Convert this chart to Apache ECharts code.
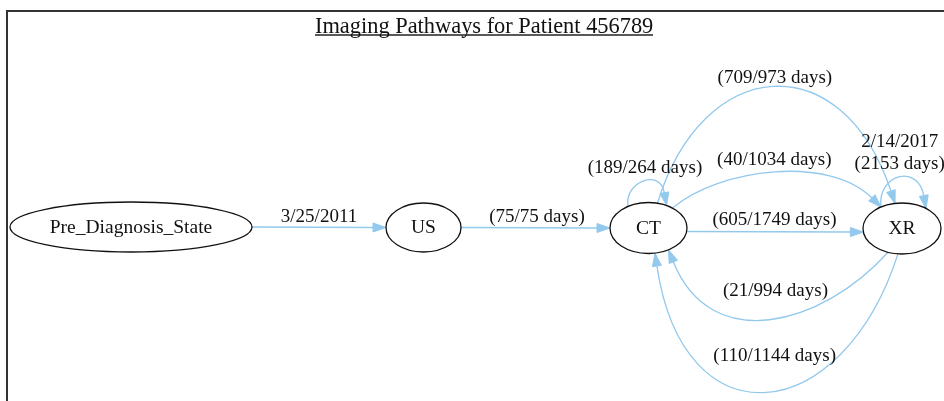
<!DOCTYPE html>
<html>
<head>
<meta charset="utf-8">
<style>html,body{margin:0;padding:0;background:#fff}#c{width:944px;height:401px}</style>
<script src="https://cdn.jsdelivr.net/npm/echarts@6/dist/echarts.min.js"></script>
</head>
<body>
<div id="c"></div>
<script>
// ---- data ----
const titleText = 'Imaging Pathways for Patient 456789';
const nodeNames = ['Pre_Diagnosis_State', 'US', 'CT', 'XR'];
const edgeSources = ['Pre_Diagnosis_State', 'US', 'CT', 'CT', 'CT', 'CT', 'XR', 'XR', 'XR'];
const edgeTargets = ['US', 'CT', 'CT', 'XR', 'XR', 'XR', 'XR', 'CT', 'CT'];
const edgeLabels = ['3/25/2011', '(75/75 days)', '(189/264 days)', '(709/973 days)', '(40/1034 days)',
  '(605/1749 days)', '2/14/2017\n(2153 days)', '(21/994 days)', '(110/1144 days)'];

// ---- layout (dot-style placement; node centres on hidden 0..944 / 0..401 axes) ----
const layoutX = [131, 423.5, 648.5, 902];
const layoutY = [227, 227.5, 228, 228.5];
const nodeSizes = [[242, 50], [75, 49], [77, 51], [78, 51]];
// per edge: [tailPortAngle, tailDir, tailLen, headPortAngle, headDir, headLen, labelDx, labelDy]
const edgeRoutes = [
  [0, 0, 40, 180, 0, 40, 6.5, -10.5],
  [0, 0, 40, 180, 0, 40, 8, -11],
  [-122, -100, 25, -62, 80, 25, 2, -13.5],
  [-76.5, -73, 155, -100.3, 71.6, 155, 2, -8.5],
  [-51.5, -40, 63, -122.6, 45, 60, 0, -11.5],
  [8, 0, 40, 172, 0, 40, 6, -11.5],
  [-122.6, -97, 33, -52, 80, 33, 1, -23.5],
  [111, 132, 100, 58.7, -111.8, 100, 6, -28.5],
  [95.9, 107.8, 182, 80.3, -98.5, 182, 8, -36]
];

const FONT = '"Liberation Serif", "Times New Roman", serif';
const EDGE = '#93c9ec';
const INK = '#111';
const ARROW_LEN = 13, ARROW_W = 9;

const chart = echarts.init(document.getElementById('c'), null, {renderer: 'canvas'});

const nodeIndex = n => nodeNames.indexOf(n);
const edgeData = edgeSources.map((s, i) => {
  const a = nodeIndex(s), b = nodeIndex(edgeTargets[i]);
  return {value: [layoutX[a], layoutY[a], layoutX[b], layoutY[b], i], name: edgeLabels[i]};
});
const nodeData = nodeNames.map((nm, i) => ({name: nm, value: [layoutX[i], layoutY[i], i]}));

const rad = d => d * Math.PI / 180;

function renderEdge(params, api) {
  const i = api.value(4);
  const s = nodeIndex(edgeSources[i]), t = nodeIndex(edgeTargets[i]);
  const c1 = api.coord([api.value(0), api.value(1)]);
  const c2 = api.coord([api.value(2), api.value(3)]);
  const r = edgeRoutes[i];
  const a1 = nodeSizes[s][0] / 2, b1 = nodeSizes[s][1] / 2;
  const a2 = nodeSizes[t][0] / 2, b2 = nodeSizes[t][1] / 2;
  const p0 = [c1[0] + a1 * Math.cos(rad(r[0])), c1[1] + b1 * Math.sin(rad(r[0]))];
  const tip = [c2[0] + a2 * Math.cos(rad(r[3])), c2[1] + b2 * Math.sin(rad(r[3]))];
  const u = [Math.cos(rad(r[4])), Math.sin(rad(r[4]))];
  const base = [tip[0] - ARROW_LEN * u[0], tip[1] - ARROW_LEN * u[1]];
  const cp1 = [p0[0] + r[2] * Math.cos(rad(r[1])), p0[1] + r[2] * Math.sin(rad(r[1]))];
  const cp2 = [base[0] - r[5] * u[0], base[1] - r[5] * u[1]];
  const n = [-u[1], u[0]];
  const mid = [
    (p0[0] + base[0]) / 8 + 3 * (cp1[0] + cp2[0]) / 8,
    (p0[1] + base[1]) / 8 + 3 * (cp1[1] + cp2[1]) / 8
  ];
  return {
    type: 'group',
    children: [
      {
        type: 'bezierCurve',
        shape: {x1: p0[0], y1: p0[1], x2: base[0], y2: base[1], cpx1: cp1[0], cpy1: cp1[1], cpx2: cp2[0], cpy2: cp2[1]},
        style: {stroke: EDGE, lineWidth: 1.35, fill: null}
      },
      {
        type: 'polygon',
        shape: {points: [tip,
          [base[0] + n[0] * ARROW_W / 2, base[1] + n[1] * ARROW_W / 2],
          [base[0] - n[0] * ARROW_W / 2, base[1] - n[1] * ARROW_W / 2]]},
        style: {fill: EDGE, stroke: EDGE, lineWidth: 1}
      },
      {
        type: 'text',
        z2: 10,
        style: {
          text: edgeLabels[i], x: mid[0] + r[6], y: mid[1] + r[7],
          align: 'center', verticalAlign: 'middle',
          fontFamily: FONT, fontSize: 19, lineHeight: 22, fill: INK
        }
      }
    ]
  };
}

function renderNode(params, api) {
  const i = api.value(2);
  const c = api.coord([api.value(0), api.value(1)]);
  return {
    type: 'group',
    children: [
      {
        type: 'ellipse',
        shape: {cx: c[0], cy: c[1], rx: nodeSizes[i][0] / 2, ry: nodeSizes[i][1] / 2},
        style: {fill: '#fff', stroke: INK, lineWidth: 1.3}
      },
      {
        type: 'text',
        z2: 10,
        style: {
          text: nodeNames[i], x: c[0], y: c[1] + 0.5,
          align: 'center', verticalAlign: 'middle',
          fontFamily: FONT, fontSize: 19.5, fill: INK
        }
      }
    ]
  };
}

chart.setOption({
  animation: false,
  title: {
    text: titleText, left: 315, top: 15, padding: 0,
    textStyle: {fontFamily: FONT, fontSize: 22.4, fontWeight: 'normal', color: INK, lineHeight: 24}
  },
  graphic: [
    {type: 'rect', shape: {x: 7, y: 11, width: 1200, height: 600}, style: {fill: 'none', stroke: '#333', lineWidth: 2}, silent: true},
    {type: 'line', shape: {x1: 315, y1: 35, x2: 653, y2: 35}, style: {stroke: '#222', lineWidth: 1.5}, silent: true}
  ],
  grid: {left: 0, right: 0, top: 0, bottom: 0},
  xAxis: {type: 'value', min: 0, max: 944, show: false},
  yAxis: {type: 'value', min: 0, max: 401, inverse: true, show: false},
  series: [
    {
      type: 'custom',
      coordinateSystem: 'cartesian2d',
      clip: false,
      z: 2,
      encode: {x: [0, 2], y: [1, 3]},
      data: edgeData,
      renderItem: renderEdge,
      silent: true
    },
    {
      type: 'custom',
      coordinateSystem: 'cartesian2d',
      clip: false,
      z: 3,
      encode: {x: 0, y: 1},
      data: nodeData,
      renderItem: renderNode,
      silent: true
    }
  ]
});
</script>
</body>
</html>
